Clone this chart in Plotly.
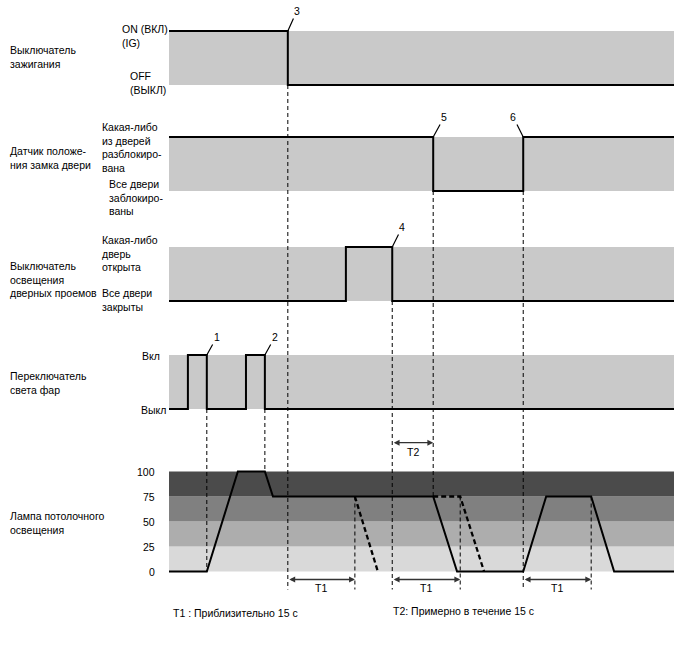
import plotly.graph_objects as go

W, H = 688, 658
FONT = "Liberation Sans, Arial, sans-serif"
FS = 10.5

# ---------------- data (time in seconds) ----------------
T_END = 112.2
ign_t = [0, 26.4, 26.4, 112.2]
ign_v = [1, 1, 0, 0]
lock_t = [0, 58.7, 58.7, 78.7, 78.7, 112.2]
lock_v = [1, 1, 0, 0, 1, 1]
door_t = [0, 39.3, 39.3, 49.6, 49.6, 112.2]
door_v = [0, 0, 1, 1, 0, 0]
head_t = [0, 4.2, 4.2, 8.4, 8.4, 17.1, 17.1, 21.3, 21.3, 112.2]
head_v = [0, 0, 1, 1, 0, 0, 1, 1, 0, 0]
lamp_t = [0, 8.4, 15.3, 21.3, 23.1, 58.7, 64.0, 78.7, 83.8, 93.8, 98.9, 112.2]
lamp_v = [0, 0, 100, 100, 75, 75, 0, 0, 75, 75, 0, 0]
alt1_t = [41.3, 46.4]
alt1_v = [75, 0]
alt2_t = [58.7, 64.7, 70.0]
alt2_v = [75, 75, 0]
lamp_ticks = [0, 25, 50, 75, 100]
lamp_band_colors = ["#d9d9d9", "#adadad", "#808080", "#4b4b4b"]
t1_spans = [(26.4, 41.3), (49.6, 64.7), (78.7, 93.8)]
t2_span = (49.6, 58.7)
# label, panel, time, level, text offset x, y (px)
events = [("1", 4, 8.4, 1, 10, -18), ("2", 4, 21.3, 1, 10, -18),
          ("3", 1, 26.4, 1, 9, -20), ("4", 3, 49.6, 1, 10, -20),
          ("5", 2, 58.7, 1, 11, -20), ("6", 2, 78.7, 1, -10, -20)]
# time, start panel, start level, end panel, end level (None -> bottom)
guides = [(8.4, 4, 0, 5, 0), (21.3, 4, 0, 5, 100), (26.4, 1, 0, 5, None),
          (49.6, 3, 0, 5, None), (58.7, 2, 0, 5, 75), (78.7, 2, 0, 5, None),
          (41.3, 5, 75, 5, None), (64.7, 5, 75, 5, None), (93.8, 5, 75, 5, None)]
GUIDE_BOTTOM = -18
T_ARROW_Y = -8
T_LABEL_Y = -16

# ---------------- geometry ----------------
X0_PX, X1_PX = 169, 674
pps = (X1_PX - X0_PX) / T_END
x_range = [-X0_PX / pps, (W - X0_PX) / pps]

# band_top, band_bot, dom_top, dom_bot (px), level lo, hi
P = {
    1: (31, 85, 0, 110, 0, 1),
    2: (137, 191, 110, 220, 0, 1),
    3: (247, 301, 220, 328, 0, 1),
    4: (355, 409, 328, 462, 0, 1),
    5: (471.5, 571.5, 462, 658, 0, 100),
}


def yrange(k):
    bt, bb, dt, db, lo, hi = P[k]
    upp = (hi - lo) / (bb - bt)
    return [lo - (db - bb) * upp, hi + (bt - dt) * upp]


def to_paper(k, v):
    bt, bb, dt, db, lo, hi = P[k]
    px = bb - (v - lo) / (hi - lo) * (bb - bt)
    return 1 - px / H


fig = go.Figure()
LINE = dict(color="black", width=2)
for k, (t, v) in zip([1, 2, 3, 4, 5], [(ign_t, ign_v), (lock_t, lock_v), (door_t, door_v),
                                       (head_t, head_v), (lamp_t, lamp_v)]):
    fig.add_trace(go.Scatter(x=t, y=v, mode="lines", line=LINE, yaxis="y" if k == 1 else f"y{k}",
                             hoverinfo="skip", showlegend=False, cliponaxis=False))
for t, v in [(alt1_t, alt1_v), (alt2_t, alt2_v)]:
    fig.add_trace(go.Scatter(x=t, y=v, mode="lines", line=dict(color="black", width=2.3, dash="5px,3px"),
                             yaxis="y5", hoverinfo="skip", showlegend=False))

shapes = []
for k in [1, 2, 3, 4]:
    shapes.append(dict(type="rect", xref="x", yref="y" if k == 1 else f"y{k}", x0=0, x1=T_END,
                       y0=0, y1=1, fillcolor="#c9c9c9", line=dict(width=0), layer="below"))
for i, c in enumerate(lamp_band_colors):
    shapes.append(dict(type="rect", xref="x", yref="y5", x0=0, x1=T_END, y0=lamp_ticks[i],
                       y1=lamp_ticks[i + 1], fillcolor=c, line=dict(width=0), layer="below"))
for t, k0, v0, k1, v1 in guides:
    shapes.append(dict(type="line", xref="x", yref="paper", x0=t, x1=t,
                       y0=to_paper(k0, v0), y1=to_paper(k1, GUIDE_BOTTOM if v1 is None else v1),
                       line=dict(color="black", width=1, dash="4px,3px")))

ann = []
for lab, k, t, v, ax, ay in events:
    ann.append(dict(x=t, y=v, xref="x", yref="y" if k == 1 else f"y{k}", text=lab, showarrow=True,
                    arrowhead=0, arrowwidth=1.2, arrowcolor="black", ax=ax, ay=ay, standoff=0,
                    font=dict(size=FS)))
for a, b in t1_spans:
    ann.append(dict(x=b, y=T_ARROW_Y, ax=a, ay=T_ARROW_Y, xref="x", yref="y5", axref="x", ayref="y5",
                    text="", showarrow=True, arrowhead=2, arrowside="end+start", arrowsize=0.9,
                    arrowwidth=1.3, arrowcolor="#333333"))
    ann.append(dict(x=(a + b) / 2, y=T_LABEL_Y, xref="x", yref="y5", text="T1", showarrow=False,
                    font=dict(size=FS)))
a, b = t2_span
ann.append(dict(x=b, y=-0.624, ax=a, ay=-0.624, xref="x", yref="y4", axref="x", ayref="y4",
                text="", showarrow=True, arrowhead=2, arrowside="end+start", arrowsize=0.9,
                arrowwidth=1.3, arrowcolor="#333333"))
ann.append(dict(x=(a + b) / 2, y=-0.8, xref="x", yref="y4", text="T2", showarrow=False,
                font=dict(size=FS)))
for v in lamp_ticks:
    ann.append(dict(x=-12 / pps, y=v, xref="x", yref="y5", text=str(v), showarrow=False,
                    xanchor="right", font=dict(size=FS)))


def lab(text, xpx, ypx, anchor="left"):
    ann.append(dict(x=xpx / W, y=1 - ypx / H, xref="paper", yref="paper", text=text,
                    showarrow=False, xanchor=anchor, yanchor="middle", align="left",
                    font=dict(size=FS)))


lab("Выключатель<br>зажигания", 8, 57)
lab("ON (ВКЛ)<br>(IG)", 120, 36.5)
lab("OFF<br>(ВЫКЛ)", 128, 83)
lab("Датчик положе-<br>ния замка двери", 8, 158)
lab("Какая-либо<br>из дверей<br>разблокиро-<br>вана", 100, 148)
lab("Все двери<br>заблокиро-<br>ваны", 107, 197.5)
lab("Выключатель<br>освещения<br>дверных проемов", 8, 280)
lab("Какая-либо<br>дверь<br>открыта", 100, 254)
lab("Все двери<br>закрыты", 100, 299.5)
lab("Переключатель<br>света фар", 8, 383.5)
lab("Вкл", 139.5, 356)
lab("Выкл", 139, 410)
lab("Лампа потолочного<br>освещения", 8, 523)
lab("T1 : Приблизительно 15 с", 171, 613)
lab("T2: Примерно в течение 15 с", 391, 611)

layout = dict(
    width=W, height=H, margin=dict(l=0, r=0, t=0, b=0),
    paper_bgcolor="white", plot_bgcolor="rgba(0,0,0,0)",
    font=dict(family=FONT, size=FS, color="black"),
    xaxis=dict(range=x_range, domain=[0, 1], visible=False, anchor="y5", fixedrange=True),
    shapes=shapes, annotations=ann, showlegend=False,
)
for k in [1, 2, 3, 4, 5]:
    bt, bb, dt, db, lo, hi = P[k]
    layout["yaxis" if k == 1 else f"yaxis{k}"] = dict(
        range=yrange(k), domain=[1 - db / H, 1 - dt / H], visible=False, anchor="x", fixedrange=True)
fig.update_layout(**layout)
fig.write_html("out.html")
